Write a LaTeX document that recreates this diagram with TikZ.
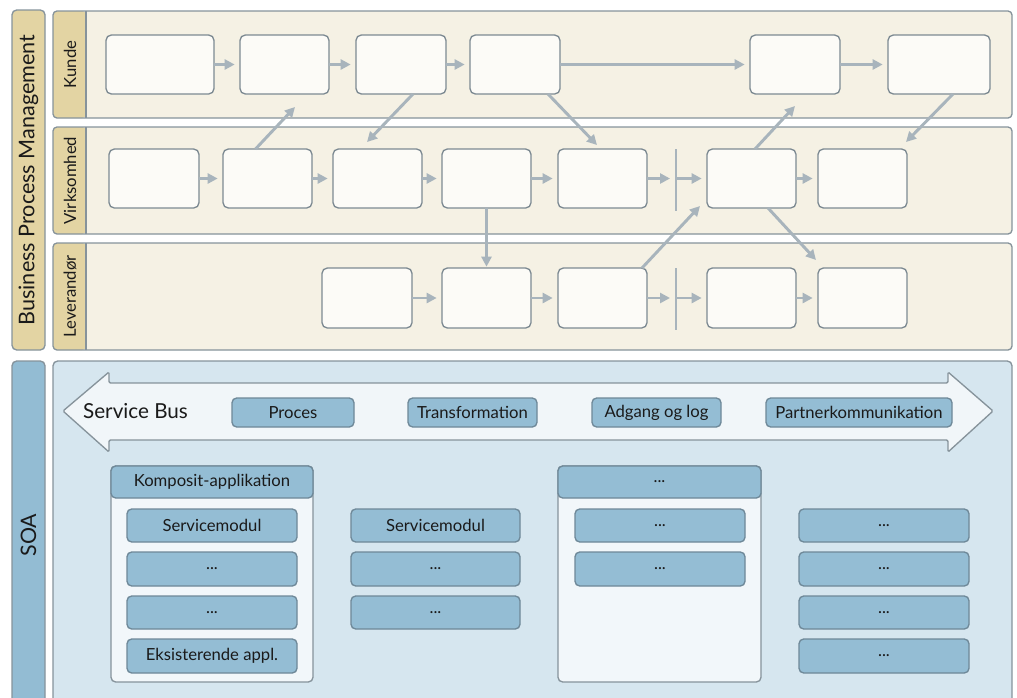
\documentclass[tikz,border=0pt]{standalone}
\usepackage{fontspec}
\setmainfont{Lato}
\usetikzlibrary{arrows.meta,calc}
\definecolor{tanfill}{HTML}{E3D4A3}
\definecolor{lanefill}{HTML}{F5F1E4}
\definecolor{edgec}{HTML}{86939B}
\definecolor{boxfill}{HTML}{FCFBF7}
\definecolor{boxedge}{HTML}{7D8A92}
\definecolor{arrowc}{HTML}{A8B4BC}
\definecolor{soabar}{HTML}{93BCD3}
\definecolor{soapanel}{HTML}{D6E6EF}
\definecolor{busfill}{HTML}{F1F6F9}
\definecolor{bluebox}{HTML}{94BDD4}
\definecolor{blueedge}{HTML}{6E8898}
\definecolor{contfill}{HTML}{F2F7FA}
\definecolor{txt}{HTML}{1A1A1A}
\newcommand\mkbox[7]{\node[#1, minimum width={(#5-#3)*0.75pt}, minimum height={(#6-#4)*0.75pt}] (#2) at ({(#3+#5)/2},{(#4+#6)/2}) {#7};}
\tikzset{
  every node/.style={inner sep=0pt, outer sep=0pt, text=txt},
  sidebar/.style={draw=edgec, line width=1pt, rounded corners=3.5pt},
  lane/.style={draw=edgec, fill=lanefill, line width=1pt, rounded corners=3pt,
    path picture={\fill[tanfill] (path picture bounding box.north west) rectangle ([xshift=24.75pt]path picture bounding box.south west);
      \draw[edgec, line width=1pt] ([xshift=24.75pt]path picture bounding box.north west) -- ([xshift=24.75pt]path picture bounding box.south west);}},
  lanelabel/.style={rotate=90, font=\fontsize{12.5}{14}\selectfont},
  procbox/.style={draw=boxedge, fill=boxfill, line width=1pt, rounded corners=4pt},
  flow/.style={draw=arrowc, line width=2.2pt, -{Triangle[length=7.5pt,width=7.5pt]}},
  barline/.style={draw=arrowc, line width=2pt},
  bluebx/.style={draw=blueedge, fill=bluebox, line width=1pt, rounded corners=3.5pt, font=\fontsize{12.5}{14}\selectfont},
  contbx/.style={draw=edgec, fill=contfill, line width=1pt, rounded corners=3.5pt},
}
\begin{document}
\begin{tikzpicture}[x=0.75pt,y=-0.75pt]
\useasboundingbox (0,0) rectangle (1017,697);
\begin{scope}
\clip (0,0) rectangle (1017,697);
% ---- side bars
\mkbox{sidebar, fill=tanfill}{bpm}{12}{10}{45}{350}{}
\node[rotate=90, font=\fontsize{16.2}{18}\selectfont] (bpmtxt) at (28.5,180) {Business Process Management};
\mkbox{sidebar, fill=soabar}{soa}{12}{361}{45}{720}{}
\node[rotate=90, font=\fontsize{16}{18}\selectfont] (soatxt) at (28.5,535) {SOA};
% ---- lanes
\mkbox{lane}{kunde}{53}{11}{1012}{118}{}
\mkbox{lane}{virk}{53}{127}{1012}{234}{}
\mkbox{lane}{lev}{53}{243}{1012}{350}{}
\node[lanelabel] (kundetxt) at (70,64.5) {Kunde};
\node[lanelabel] (virktxt) at (70,180.5) {Virksomhed};
\node[lanelabel] (levtxt) at (70,296.5) {Leverandør};
% ---- process boxes
\mkbox{procbox}{k1}{106}{35}{214}{94}{}
\mkbox{procbox}{k2}{240}{35}{329}{94}{}
\mkbox{procbox}{k3}{356}{35}{446}{94}{}
\mkbox{procbox}{k4}{470}{35}{560}{94}{}
\mkbox{procbox}{k5}{750}{35}{840}{94}{}
\mkbox{procbox}{k6}{888}{35}{990}{94}{}
\mkbox{procbox}{v1}{109}{149}{199}{208}{}
\mkbox{procbox}{v2}{223}{149}{312}{208}{}
\mkbox{procbox}{v3}{333}{149}{422}{208}{}
\mkbox{procbox}{v4}{442}{149}{531}{208}{}
\mkbox{procbox}{v5}{558}{149}{647}{208}{}
\mkbox{procbox}{v6}{707}{149}{796}{208}{}
\mkbox{procbox}{v7}{818}{149}{907}{208}{}
\mkbox{procbox}{l1}{322}{268}{412}{328}{}
\mkbox{procbox}{l2}{442}{268}{531}{328}{}
\mkbox{procbox}{l3}{558}{268}{647}{328}{}
\mkbox{procbox}{l4}{707}{268}{796}{328}{}
\mkbox{procbox}{l5}{818}{268}{907}{328}{}
% ---- bars
\coordinate (vb1) at (676,149);
\coordinate (vb2) at (676,211);
\coordinate (lb1) at (676,268);
\coordinate (lb2) at (676,330);
\draw[barline] (vb1) -- (vb2);
\draw[barline] (lb1) -- (lb2);
% ---- horizontal flows
\draw[flow, shorten >=4pt] (k1) -- (k2);
\draw[flow, shorten >=4pt] (k2) -- (k3);
\draw[flow, shorten >=4pt] (k3) -- (k4);
\draw[flow, shorten >=4pt] (k4) -- (k5);
\draw[flow, shorten >=4pt] (k5) -- (k6);
\draw[flow, shorten >=4pt] (v1) -- (v2);
\draw[flow, shorten >=4pt] (v2) -- (v3);
\draw[flow, shorten >=4pt] (v3) -- (v4);
\draw[flow, shorten >=4pt] (v4) -- (v5);
\draw[flow, shorten >=4.5pt] (v5.east) -- (v5.east -| vb1);
\draw[flow, shorten >=4pt] (v5.east -| vb1) -- (v6.west);
\draw[flow, shorten >=4pt] (v6) -- (v7);
\draw[flow, shorten >=4pt] (l1) -- (l2);
\draw[flow, shorten >=4pt] (l2) -- (l3);
\draw[flow, shorten >=4.5pt] (l3.east) -- (l3.east -| lb1);
\draw[flow, shorten >=4pt] (l3.east -| lb1) -- (l4.west);
\draw[flow, shorten >=4pt] (l4) -- (l5);
% ---- cross-lane flows
\coordinate (ea) at (295,107);
\coordinate (eb) at (367,142);
\coordinate (ec) at (597,145);
\coordinate (ee) at (700,206);
\coordinate (ef) at (795,106);
\coordinate (eg) at (906,142);
\coordinate (eh) at (816,260);
\draw[flow] ($(v2.north)+(-12,0)$) -- (ea);
\draw[flow] ($(k3.south)+(12,0)$) -- (eb);
\draw[flow] ($(k4.south)+(33,0)$) -- (ec);
\draw[flow, shorten >=1pt] (v4.south) -- (l2.north);
\draw[flow] ($(l3.north east)+(-5,0)$) -- (ee);
\draw[flow] ($(v6.north)+(3.5,0)$) -- (ef);
\draw[flow] ($(k6.south)+(14,0)$) -- (eg);
\draw[flow] ($(v6.south)+(16.5,0)$) -- (eh);
% ---- SOA panel
\mkbox{draw=edgec, fill=soapanel, line width=1pt, rounded corners=3.5pt}{panel}{53}{361}{1012}{720}{}
\draw[draw=edgec, fill=busfill, line width=1pt, rounded corners=1pt]
  (63,411) -- (109,372) -- (109,383) -- (948,383) -- (948,372) -- (993,411)
  -- (948,452) -- (948,440) -- (109,440) -- (109,452) -- cycle;
\node[font=\fontsize{15.5}{18}\selectfont] (bus) at (135.5,411) {Service Bus};
\mkbox{bluebx}{proces}{232}{398}{354}{427}{Proces}
\mkbox{bluebx}{trans}{408}{398}{537}{427}{Transformation}
\mkbox{bluebx}{adgang}{592}{398}{721}{427}{Adgang og log}
\mkbox{bluebx}{partner}{766}{398}{952}{427}{Partnerkommunikation}
% containers
\mkbox{contbx}{c1}{111}{466}{313}{682}{}
\mkbox{bluebx}{c1h}{111}{466}{313}{498}{Komposit-applikation}
\mkbox{contbx}{c2}{558}{466}{761}{682}{}
\mkbox{bluebx}{c2h}{558}{466}{761}{498}{...}
% column 1
\mkbox{bluebx}{a1}{127}{509}{297}{542}{Servicemodul}
\mkbox{bluebx}{a2}{127}{552}{297}{586}{...}
\mkbox{bluebx}{a3}{127}{596}{297}{629}{...}
\mkbox{bluebx}{a4}{127}{639}{297}{673}{Eksisterende appl.}
% column 2
\mkbox{bluebx}{b1}{351}{509}{520}{542}{Servicemodul}
\mkbox{bluebx}{b2}{351}{552}{520}{586}{...}
\mkbox{bluebx}{b3}{351}{596}{520}{629}{...}
% column 3
\mkbox{bluebx}{d1}{575}{509}{745}{542}{...}
\mkbox{bluebx}{d2}{575}{552}{745}{586}{...}
% column 4
\mkbox{bluebx}{e1}{799}{509}{969}{542}{...}
\mkbox{bluebx}{e2}{799}{552}{969}{586}{...}
\mkbox{bluebx}{e3}{799}{596}{969}{629}{...}
\mkbox{bluebx}{e4}{799}{639}{969}{673}{...}
\end{scope}
\end{tikzpicture}
\end{document}
